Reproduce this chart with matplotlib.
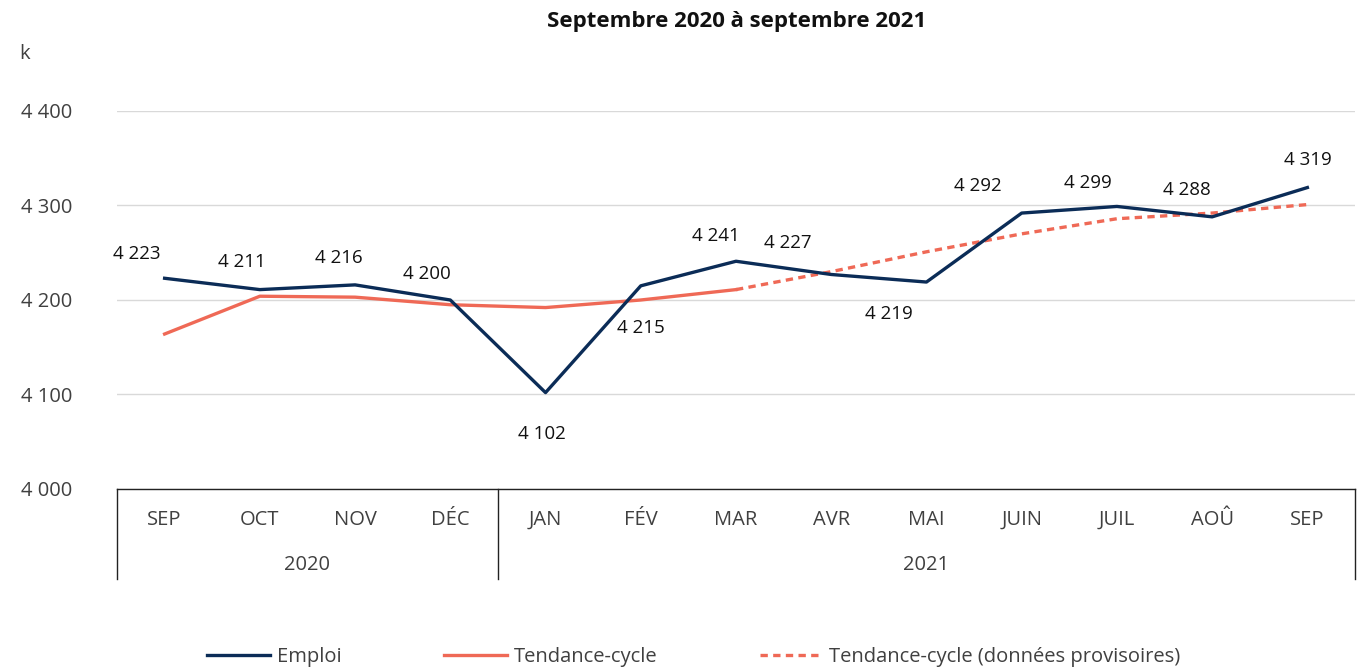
import matplotlib
matplotlib.use("Agg")
from matplotlib import pyplot as plt

plt.rcParams['font.family'] = ['Open Sans', 'DejaVu Sans']

months = ["SEP", "OCT", "NOV", "DÉC", "JAN", "FÉV", "MAR", "AVR", "MAI",
          "JUIN", "JUIL", "AOÛ", "SEP"]
emploi = [4223, 4211, 4216, 4200, 4102, 4215, 4241, 4227, 4219, 4292, 4299, 4288, 4319]
tendance = [4164, 4204, 4203, 4195, 4192, 4200, 4211, 4230, 4251, 4270, 4286, 4292, 4301]
n_final = 7  # tendance-cycle definitive up to MAR, provisional after
years = [("2020", 0, 4), ("2021", 4, 13)]
y_ticks = [4000, 4100, 4200, 4300, 4400]

# label offsets in pixels (dx, dy) from each Emploi point
label_offsets = [(-28, 24), (-18, 28), (-16, 27), (-23, 26), (-4, -41), (0, -42),
                 (-20, 25), (-43, 31), (-38, -32), (-44, 27), (-29, 23), (-25, 27), (0, 28)]

NAVY = '#0b2c57'
CORAL = '#ef6956'
GREY = '#404040'


def fmt(v):
    return f"{v:,}".replace(",", " ")


fig = plt.figure(figsize=(13.59, 6.72), dpi=100)
ax = fig.add_axes([117 / 1359, 1 - 489 / 672, (1355 - 117) / 1359, 378 / 672])

x = list(range(len(months)))
ax.plot(x, emploi, color=NAVY, lw=2.4, label="Emploi", zorder=3)
ax.plot(x[:n_final], tendance[:n_final], color=CORAL, lw=2.4, label="Tendance-cycle", zorder=2)
ax.plot(x[n_final - 1:], tendance[n_final - 1:], color=CORAL, lw=2.4, ls=(0, (2.2, 1.6)),
        label="Tendance-cycle (données provisoires)", zorder=2)

for xi, v, (dx, dy) in zip(x, emploi, label_offsets):
    ax.annotate(fmt(v), (xi, v), xytext=(dx, dy), textcoords='offset pixels',
                ha='center', va='center', fontsize=13.5, color='#111111')

ax.set_xlim(-0.5, len(months) - 0.5)
ax.set_ylim(4000, 4400)
ax.set_yticks(y_ticks)
ax.set_yticklabels([fmt(t) for t in y_ticks], fontsize=14.5, color=GREY)
ax.grid(axis='y', color='#d9d9d9', lw=1)
ax.set_axisbelow(True)
for s in ['top', 'right', 'left']:
    ax.spines[s].set_visible(False)
ax.spines['bottom'].set_color('#222222')
ax.spines['bottom'].set_linewidth(1)
ax.tick_params(axis='y', length=0, pad=32)
ax.set_xticks(x)
ax.set_xticklabels(months, fontsize=14.5, color=GREY)
ax.tick_params(axis='x', length=0, pad=15)

trans = ax.get_xaxis_transform()
for xb in [-0.5, 3.5, len(months) - 0.5]:
    ax.plot([xb, xb], [0, -90 / 378], transform=trans, color='#222222', lw=1, clip_on=False)
for name, a, b in years:
    ax.text((a + b - 1) / 2, -76 / 378, name, transform=trans, ha='center', va='center',
            fontsize=14.5, color=GREY)

fig.text(19 / 1359, 1 - 54 / 672, "k", fontsize=14.5, color=GREY, ha='left', va='center')
fig.text(736.5 / 1359, 1 - 22 / 672, "Septembre 2020 à septembre 2021",
         fontsize=16, fontweight='bold', ha='center', va='center', color='#111111')

fig.legend(loc='center', bbox_to_anchor=(694 / 1359, 1 - 657 / 672), ncol=3, frameon=False,
           fontsize=14.5, handlelength=3.1, columnspacing=5.1, handletextpad=0.35,
           labelcolor=GREY)

fig.savefig("out.png", dpi=100)
